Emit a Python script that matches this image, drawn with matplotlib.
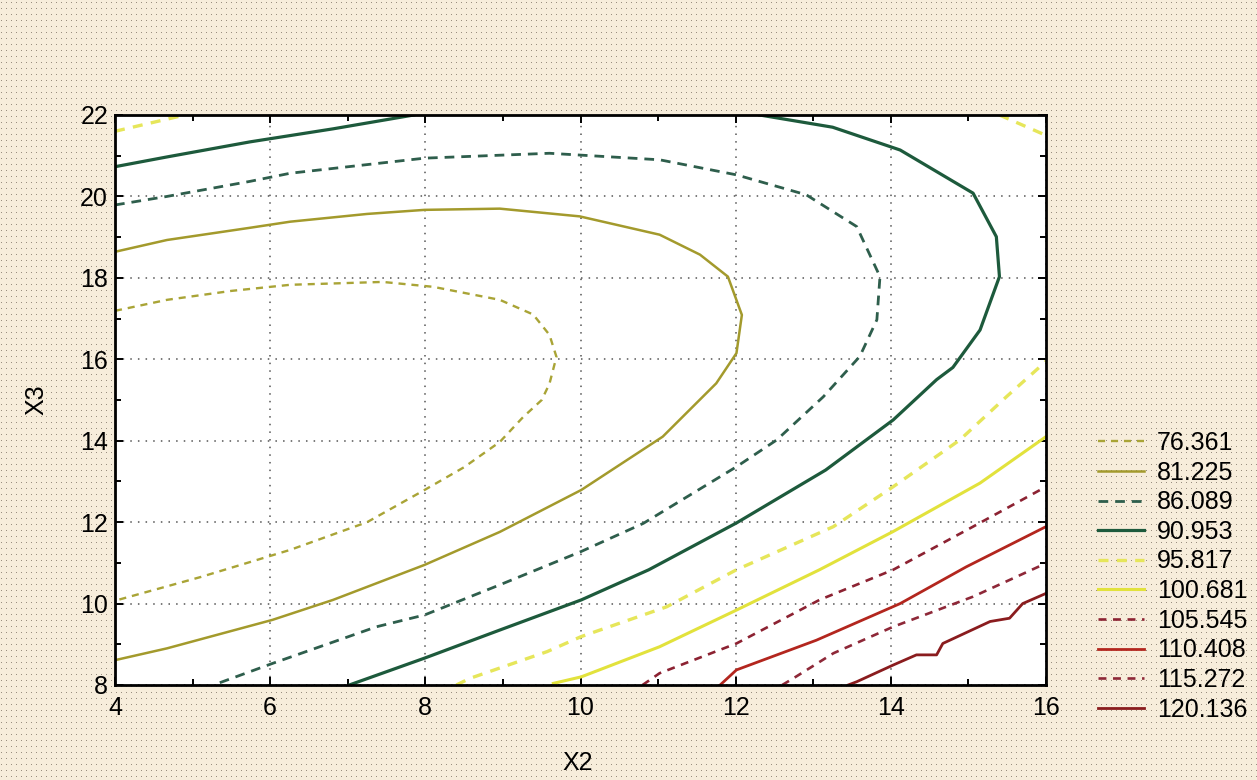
import numpy as np
import matplotlib
matplotlib.use("Agg")
import matplotlib.pyplot as plt
from matplotlib.lines import Line2D

plt.rcParams['font.family'] = ['Liberation Sans', 'DejaVu Sans']

# =============================================================================
# contour levels and lines (X2, X3)
# =============================================================================
levels = [76.361, 81.225, 86.089, 90.953, 95.817,
          100.681, 105.545, 110.408, 115.272, 120.136]

c76_x = [4.0, 4.67, 5.5, 6.26, 7.45, 8.1, 8.96, 9.39, 9.6, 9.69, 9.6, 9.5,
         9.26, 8.96, 8.5, 7.99, 7.25, 6.26, 5.1, 4.0]
c76_y = [17.19, 17.46, 17.68, 17.83, 17.9, 17.78, 17.46, 17.1, 16.6, 16.06,
         15.4, 15.0, 14.58, 13.97, 13.35, 12.79, 12.0, 11.32, 10.65, 10.07]

c81_x = [4.0, 4.67, 5.74, 6.26, 7.25, 7.99, 8.96, 9.99, 11.02, 11.54, 11.9,
         12.08, 12.01, 11.75, 11.06, 10.01, 8.96, 7.99, 6.81, 6.03, 4.67, 4.0]
c81_y = [18.64, 18.93, 19.23, 19.38, 19.57, 19.67, 19.7, 19.51, 19.06, 18.57,
         18.03, 17.09, 16.15, 15.41, 14.1, 12.79, 11.76, 10.95, 10.09, 9.6,
         8.9, 8.61]

c86_x = [4.0, 4.67, 5.74, 6.26, 7.99, 9.6, 11.02, 12.01, 12.91, 13.56, 13.86,
         13.82, 13.6, 13.13, 12.53, 12.01, 10.81, 10.01, 8.96, 7.99, 7.37,
         6.03, 5.27]
c86_y = [19.79, 20.0, 20.37, 20.57, 20.94, 21.06, 20.9, 20.53, 20.04, 19.26,
         18.03, 16.97, 16.07, 15.08, 14.02, 13.36, 11.97, 11.28, 10.46, 9.72,
         9.43, 8.53, 8.0]

c91a_x = [4.0, 4.67, 5.74, 6.81, 7.85]
c91a_y = [20.73, 20.97, 21.34, 21.66, 22.0]
c91b_x = [12.31, 13.25, 14.12, 15.06, 15.36, 15.4, 15.15, 14.8, 14.59, 14.03,
          13.16, 12.01, 10.88, 10.01, 8.96, 7.99, 7.02]
c91b_y = [22.0, 21.7, 21.14, 20.08, 19.01, 18.03, 16.72, 15.8, 15.5, 14.51,
          13.28, 11.98, 10.83, 10.09, 9.35, 8.66, 8.0]

c96a_x = [4.0, 4.9]
c96a_y = [21.6, 22.0]
c96b_x = [15.4, 16.0]
c96b_y = [22.0, 21.5]
c96c_x = [8.4, 8.57, 9.57, 10.01, 11.11, 12.01, 13.26, 14.03, 14.89, 15.49, 16.0]
c96c_y = [8.0, 8.16, 8.82, 9.19, 9.92, 10.83, 11.89, 12.87, 14.02, 15.08, 15.95]

c101_x = [9.65, 10.01, 11.02, 12.01, 13.08, 14.03, 15.15, 16.0]
c101_y = [8.04, 8.2, 8.94, 9.84, 10.83, 11.77, 12.96, 14.1]

c106_x = [10.8, 11.02, 12.01, 13.08, 14.03, 15.06, 16.0]
c106_y = [8.0, 8.29, 9.02, 10.09, 10.83, 11.89, 12.87]

c110_x = [11.8, 12.01, 13.04, 14.12, 14.97, 16.0]
c110_y = [8.0, 8.37, 9.1, 10.0, 10.9, 11.89]

c115_x = [12.6, 12.74, 13.26, 14.03, 15.06, 16.0]
c115_y = [8.0, 8.16, 8.78, 9.43, 10.17, 10.99]

c120_x = [13.45, 13.56, 14.03, 14.33, 14.59, 14.67, 15.28, 15.53, 15.7, 16.0]
c120_y = [8.0, 8.08, 8.49, 8.74, 8.74, 9.02, 9.56, 9.64, 10.0, 10.25]

segments = [
    [(c76_x, c76_y)],
    [(c81_x, c81_y)],
    [(c86_x, c86_y)],
    [(c91a_x, c91a_y), (c91b_x, c91b_y)],
    [(c96a_x, c96a_y), (c96b_x, c96b_y), (c96c_x, c96c_y)],
    [(c101_x, c101_y)],
    [(c106_x, c106_y)],
    [(c110_x, c110_y)],
    [(c115_x, c115_y)],
    [(c120_x, c120_y)],
]

colors = ['#a9a436', '#a39a2c', '#2e5e4c', '#1d5a3c', '#e6e65a',
          '#e2e23c', '#8c2232', '#b3261e', '#8e2838', '#8a1c1e']
styles = [(0, (3, 2.5)), '-', (0, (3.5, 2.5)), '-', (0, (3, 2.5)),
          '-', (0, (3, 2.5)), '-', (0, (3, 2.5)), '-']
widths = [1.7, 1.8, 2.0, 2.3, 2.4, 2.2, 1.9, 2.0, 1.9, 2.0]

W, H = 1257, 780
fig = plt.figure(figsize=(W / 100, H / 100), dpi=100)

# halftone-like scanned paper background
bg = fig.add_axes([0, 0, 1, 1], zorder=-5)
paper = np.ones((H, W, 3)) * np.array([0.97, 0.93, 0.86])
paper[2::6, 1::5] = np.array([0.60, 0.56, 0.50])
bg.imshow(paper, aspect='auto', interpolation='nearest')
bg.axis('off')

ax = fig.add_axes([115 / W, (H - 685) / H, (1046 - 115) / W, (685 - 115) / H])
ax.set_facecolor('white')

for lev, segs, col, ls, lw in zip(levels, segments, colors, styles, widths):
    for sx, sy in segs:
        ax.plot(sx, sy, color=col, linestyle=ls, linewidth=lw)

ax.set_xlim(4, 16)
ax.set_ylim(8, 22)
ax.set_xticks(np.arange(4, 17, 2))
ax.set_yticks(np.arange(8, 23, 2))
ax.set_xticks(np.arange(4, 17, 1), minor=True)
ax.set_yticks(np.arange(8, 23, 1), minor=True)
ax.tick_params(which='both', direction='in', top=True, right=True,
               width=1.4, colors='black', labelsize=18)
ax.tick_params(which='major', length=6)
ax.tick_params(which='minor', length=4)
ax.tick_params(axis='x', pad=8)
ax.tick_params(axis='y', pad=5)
ax.grid(True, which='major', linestyle=(0, (1, 4)), color='#555555',
        linewidth=1.1)
for sp in ax.spines.values():
    sp.set_linewidth(2.0)
    sp.set_color('black')

ax.set_xlabel('X2', fontsize=18)
ax.set_ylabel('X3', fontsize=18)
ax.xaxis.set_label_coords(0.497, -0.115)
ax.yaxis.set_label_coords(-0.072, 0.5)

handles = [Line2D([0], [0], color=c, linestyle=s, linewidth=w)
           for c, s, w in zip(colors, styles, widths)]
labels = ['%.3f' % v for v in levels]
fig.legend(handles, labels, loc='upper left',
           bbox_to_anchor=(1098 / W, 1 - 431 / H), frameon=False,
           fontsize=18, handlelength=1.85, handletextpad=0.5,
           labelspacing=0.225, borderaxespad=0, borderpad=0)

fig.savefig('out.png', dpi=100)
